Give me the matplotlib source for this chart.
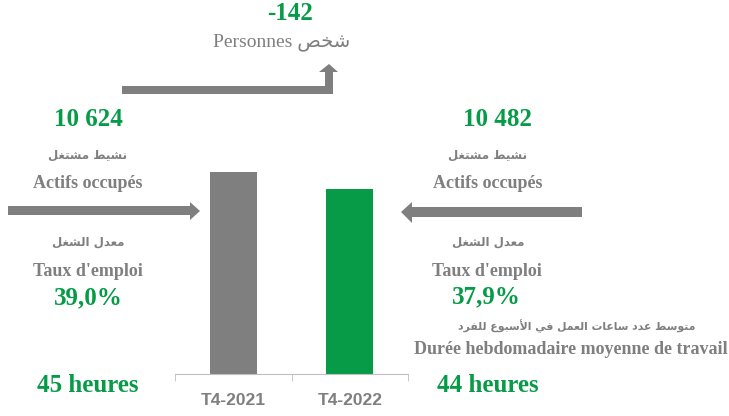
import numpy as np
import matplotlib
matplotlib.use("Agg")
import matplotlib.pyplot as plt
from matplotlib.patches import Polygon

# data
periods = ["T4-2021", "T4-2022"]
employed = [10624, 10482]          # actifs occupés (milliers)
change = employed[1] - employed[0]   # -142
rate = ["39,0%", "37,9%"]
hours = ["45 heures", "44 heures"]

GREEN = "#079b48"
GREY = "#7f7f7f"
LAT = ["Liberation Serif", "DejaVu Sans"]

#------------------------------------------------------------
# tiny arabic shaper (matplotlib does no joining / bidi)
#------------------------------------------------------------
FORMS = {
    '\u0627': ('\uFE8D', '\uFE8E', None, None),
    '\u0623': ('\uFE83', '\uFE84', None, None),
    '\u0628': ('\uFE8F', '\uFE90', '\uFE91', '\uFE92'),
    '\u062A': ('\uFE95', '\uFE96', '\uFE97', '\uFE98'),
    '\u062E': ('\uFEA5', '\uFEA6', '\uFEA7', '\uFEA8'),
    '\u062F': ('\uFEA9', '\uFEAA', None, None),
    '\u0631': ('\uFEAD', '\uFEAE', None, None),
    '\u0633': ('\uFEB1', '\uFEB2', '\uFEB3', '\uFEB4'),
    '\u0634': ('\uFEB5', '\uFEB6', '\uFEB7', '\uFEB8'),
    '\u0635': ('\uFEB9', '\uFEBA', '\uFEBB', '\uFEBC'),
    '\u0637': ('\uFEC1', '\uFEC2', '\uFEC3', '\uFEC4'),
    '\u0639': ('\uFEC9', '\uFECA', '\uFECB', '\uFECC'),
    '\u063A': ('\uFECD', '\uFECE', '\uFECF', '\uFED0'),
    '\u0641': ('\uFED1', '\uFED2', '\uFED3', '\uFED4'),
    '\u0644': ('\uFEDD', '\uFEDE', '\uFEDF', '\uFEE0'),
    '\u0645': ('\uFEE1', '\uFEE2', '\uFEE3', '\uFEE4'),
    '\u0646': ('\uFEE5', '\uFEE6', '\uFEE7', '\uFEE8'),
    '\u0648': ('\uFEED', '\uFEEE', None, None),
    '\u064A': ('\uFEF1', '\uFEF2', '\uFEF3', '\uFEF4'),
    '\u0644\u0627': ('\uFEFB', '\uFEFC', None, None),
    '\u0644\u0623': ('\uFEF7', '\uFEF8', None, None),
}

def shape(s):
    chars = []
    i = 0
    while i < len(s):
        if i+1 < len(s) and s[i:i+2] in FORMS:
            chars.append(s[i:i+2]); i += 2
        else:
            chars.append(s[i]); i += 1
    out = []
    for k, c in enumerate(chars):
        f = FORMS.get(c)
        if f is None:
            out.append(c); continue
        prev = FORMS.get(chars[k-1]) if k > 0 else None
        nxt = FORMS.get(chars[k+1]) if k+1 < len(chars) else None
        jp = prev is not None and prev[2] is not None
        jn = nxt is not None and f[2] is not None
        if jp and jn: out.append(f[3])
        elif jp: out.append(f[1])
        elif jn: out.append(f[2])
        else: out.append(f[0])
    return ''.join(out)[::-1]

ar_actifs = shape("نشيط مشتغل")
ar_taux = shape("معدل الشغل")
ar_duree = shape("متوسط عدد ساعات العمل في الأسبوع للفرد")
ar_pers = shape("شخص")

W, H = 729, 416
fig = plt.figure(figsize=(W/100, H/100), dpi=100)

# bar chart
ax = fig.add_axes([175/W, 1-374/H, 233/W, 249/H])
ax.bar(range(len(periods)), employed, width=0.4, color=[GREY, GREEN], zorder=2)
ax.set_ylim(9000, 11000)
ax.set_xlim(-0.5, 1.5)
for s in ["top", "right", "left"]:
    ax.spines[s].set_visible(False)
ax.spines["bottom"].set_color("#bfbfbf")
ax.set_yticks([])
ax.set_xticks(range(len(periods)))
ax.set_xticklabels(periods, fontsize=12.5, fontweight="bold", color=GREY,
                   family=["Liberation Sans"])
ax.tick_params(axis="x", which="major", length=0, pad=14)
ax.set_xticks([-0.5, 0.5, 1.5], minor=True)
ax.tick_params(axis="x", which="minor", length=5, color="#bfbfbf")
ax.patch.set_visible(False)

# overlay in pixel coords for arrows
ov = fig.add_axes([0, 0, 1, 1], zorder=-1)
ov.set_xlim(0, W); ov.set_ylim(H, 0); ov.axis("off")

ov.add_patch(Polygon([(8, 206), (190, 206), (190, 202), (200, 211), (190, 220),
                      (190, 215), (8, 215)], closed=True, color=GREY, lw=0))
ov.add_patch(Polygon([(582, 207), (412, 207), (412, 202), (401, 212), (412, 223),
                      (412, 217), (582, 217)], closed=True, color=GREY, lw=0))
ov.add_patch(Polygon([(122, 86), (325, 86), (325, 72), (319, 72), (329, 64),
                      (338, 72), (333, 72), (333, 94), (122, 94)], closed=True, color=GREY, lw=0))

def t(x, y, s, size, color=GREY, bold=True, fam=LAT):
    fig.text(x/W, 1-y/H, s, ha="center", va="center", fontsize=size, color=color,
             fontweight="bold" if bold else "normal", family=fam)

def ar(x, y, s, size=8.5):
    t(x, y, s, size, fam=["DejaVu Sans"])

t(290, 13, "%d" % change, 18, GREEN)
t(282, 42, "Personnes " + ar_pers, 14, bold=False)

# left block
t(88, 119, "10 624", 18, GREEN)
ar(88, 155, ar_actifs)
t(88, 184, "Actifs occupés", 13)
ar(88, 242, ar_taux)
t(88, 271, "Taux d'emploi", 13)
t(88, 298, rate[0], 18, GREEN)
t(88, 386, hours[0], 18, GREEN)

# right block
t(497, 119, "10 482", 18, GREEN)
ar(488, 155, ar_actifs)
t(488, 184, "Actifs occupés", 13)
ar(488, 242, ar_taux)
t(487, 272, "Taux d'emploi", 13)
t(486, 297, rate[1], 18, GREEN)
ar(577, 326, ar_duree, 7.8)
t(571, 350, "Durée hebdomadaire moyenne de travail", 13)
t(488, 386, hours[1], 18, GREEN)

fig.savefig("out.png", dpi=100)
